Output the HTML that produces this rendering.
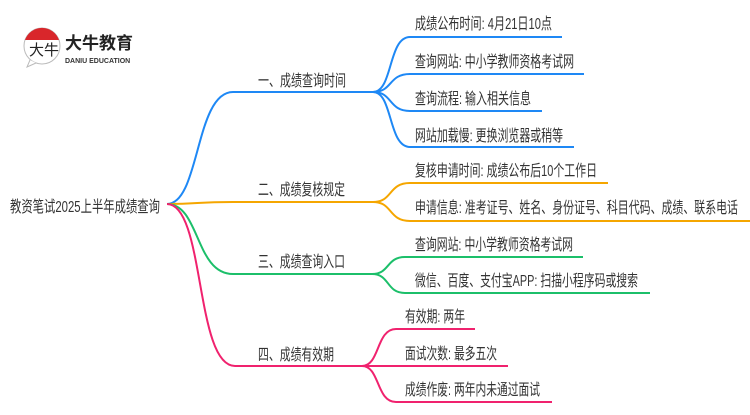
<!DOCTYPE html>
<html><head><meta charset="utf-8"><style>
html,body{margin:0;padding:0;background:#fff;}
svg text{font-family:"Liberation Sans","Noto Sans CJK SC",sans-serif;fill:#333;}
</style></head><body>
<svg width="750" height="410" viewBox="0 0 750 410" xmlns="http://www.w3.org/2000/svg">
<circle cx="42" cy="46" r="18" fill="#fff" stroke="#bbb" stroke-width="1"/>
<path d="M25,40 A18,18 0 0 1 59,40 Z" fill="#d9262b"/>
<path d="M30,60 L27,67 L36,63" fill="#fff" stroke="#bbb" stroke-width="1"/>
<text x="29" y="55" font-size="15" style="fill:#222">大牛</text>
<text x="65" y="49" font-size="17" font-weight="bold" style="fill:#222">大牛教育</text>
<text x="65" y="63" font-size="7" font-weight="bold" style="fill:#333">DANIU EDUCATION</text>

<g fill="none" stroke-width="2">
<path d="M167,204 C200,204 195,92 233,92 L373,92" stroke="#1e88f5"/>
<path d="M373,92 C393,92 388,37 410,37 L562,37" stroke="#1e88f5"/>
<path d="M373,92 C393,92 388,74 410,74 L584,74" stroke="#1e88f5"/>
<path d="M373,92 C393,92 388,111 410,111 L542,111" stroke="#1e88f5"/>
<path d="M373,92 C393,92 388,147 410,147 L574,147" stroke="#1e88f5"/>
<path d="M167,204 C200,204 195,202 233,202 L373,202" stroke="#f5a600"/>
<path d="M373,202 C393,202 388,183 410,183 L608,183" stroke="#f5a600"/>
<path d="M373,202 C393,202 388,221 410,221 L750,221" stroke="#f5a600"/>
<path d="M167,204 C200,204 195,274 233,274 L372,274" stroke="#1cbf6a"/>
<path d="M372,274 C390,274 386,257 405,257 L583,257" stroke="#1cbf6a"/>
<path d="M372,274 C390,274 386,293 405,293 L650,293" stroke="#1cbf6a"/>
<path d="M167,204 C205,204 195,366 235,366 L362,366" stroke="#f0226e"/>
<path d="M362,366 C380,366 376,329 396,329 L475,329" stroke="#f0226e"/>
<path d="M362,366 L508,366" stroke="#f0226e"/>
<path d="M362,366 C380,366 376,402 396,402 L552,402" stroke="#f0226e"/>
</g>

<g font-size="16">
<text x="10" y="212" textLength="150" lengthAdjust="spacingAndGlyphs">教资笔试2025上半年成绩查询</text>
<text x="258" y="86" textLength="88" lengthAdjust="spacingAndGlyphs">一、成绩查询时间</text>
<text x="258" y="195" textLength="87" lengthAdjust="spacingAndGlyphs">二、成绩复核规定</text>
<text x="258" y="267" textLength="87" lengthAdjust="spacingAndGlyphs">三、成绩查询入口</text>
<text x="258" y="360" textLength="76" lengthAdjust="spacingAndGlyphs">四、成绩有效期</text>

<text x="415" y="29" textLength="137" lengthAdjust="spacingAndGlyphs">成绩公布时间: 4月21日10点</text>
<text x="415" y="67" textLength="159" lengthAdjust="spacingAndGlyphs">查询网站: 中小学教师资格考试网</text>
<text x="415" y="104" textLength="116" lengthAdjust="spacingAndGlyphs">查询流程: 输入相关信息</text>
<text x="415" y="141" textLength="148" lengthAdjust="spacingAndGlyphs">网站加载慢: 更换浏览器或稍等</text>
<text x="415" y="176" textLength="182" lengthAdjust="spacingAndGlyphs">复核申请时间: 成绩公布后10个工作日</text>
<text x="415" y="213" textLength="323" lengthAdjust="spacingAndGlyphs">申请信息: 准考证号、姓名、身份证号、科目代码、成绩、联系电话</text>
<text x="415" y="250" textLength="158" lengthAdjust="spacingAndGlyphs">查询网站: 中小学教师资格考试网</text>
<text x="415" y="286" textLength="223" lengthAdjust="spacingAndGlyphs">微信、百度、支付宝APP: 扫描小程序码或搜索</text>
<text x="405" y="322" textLength="60" lengthAdjust="spacingAndGlyphs">有效期: 两年</text>
<text x="405" y="359" textLength="92" lengthAdjust="spacingAndGlyphs">面试次数: 最多五次</text>
<text x="405" y="395" textLength="135" lengthAdjust="spacingAndGlyphs">成绩作废: 两年内未通过面试</text>
</g>
</svg>
</body></html>
